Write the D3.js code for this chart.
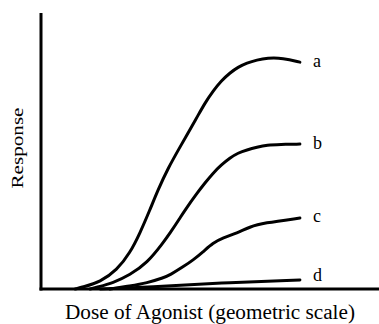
<!DOCTYPE html>
<html>
<head>
<meta charset="utf-8">
<script src="https://cdn.jsdelivr.net/npm/d3@7"></script>
<style>
    body { margin: 0; background: #fff; }
    svg { display: block; }
    .lbl { font-family: "Liberation Serif", "Times New Roman", serif; fill: #000; }
</style>
</head>
<body>
<div id="vis"></div>
<script>
// dose in log units (geometric scale), response in % of axis height
var curveNames = ["a", "b", "c", "d"];

var doseA = [1.01, 1.24, 1.75, 2.25, 2.63, 2.93, 3.22, 3.46, 3.76, 4.11, 4.62, 4.85, 5.09, 5.33, 5.59, 5.83, 6.09, 6.39, 6.69, 7.16, 7.66];
var respA = [0, 0.7, 2.5, 6.9, 13.0, 20.3, 28.6, 35.9, 43.8, 51.4, 62.3, 67.4, 71.7, 75.4, 78.3, 80.4, 81.9, 83.0, 83.7, 83.7, 82.2];

var doseB = [1.45, 1.66, 2.13, 2.63, 3.14, 3.61, 3.82, 4.11, 4.26, 4.62, 4.85, 5.09, 5.33, 5.59, 5.83, 6.09, 6.39, 6.69, 7.07, 7.66];
var respB = [0, 0.7, 2.2, 5.1, 9.4, 16.7, 20.3, 25.7, 28.6, 34.8, 38.4, 42.0, 44.9, 47.5, 49.3, 50.4, 51.4, 52.2, 52.4, 52.5];

var doseC = [2.04, 2.63, 3.14, 3.61, 3.82, 4.20, 4.50, 4.79, 5.09, 5.38, 5.80, 6.18, 6.57, 7.66];
var respC = [0, 1.1, 2.2, 4.0, 5.1, 8.0, 10.5, 13.4, 16.7, 18.5, 20.3, 22.5, 23.9, 25.7];

var doseD = [1.75, 3.22, 5.30, 7.66];
var respD = [0, 0.7, 2.2, 3.3];

var width = 379;
var height = 324;

var svg = d3.select("#vis").append("svg")
    .attr("width", width)
    .attr("height", height);

var x = d3.scaleLinear().domain([0, 10]).range([41, 379]);
var y = d3.scaleLinear().domain([0, 100]).range([289, 13]);

var series = [
    { name: curveNames[0], dose: doseA, resp: respA, shift: 5 },
    { name: curveNames[1], dose: doseB, resp: respB, shift: 5 },
    { name: curveNames[2], dose: doseC, resp: respC, shift: 4 },
    { name: curveNames[3], dose: doseD, resp: respD, shift: 1 }
];

var line = d3.line()
    .x(function(d) { return x(d[0]); })
    .y(function(d) { return y(d[1]); })
    .curve(d3.curveBasis);

// axes (plain lines, no ticks)
svg.append("line")
    .attr("x1", x(0)).attr("x2", x(0))
    .attr("y1", y(100)).attr("y2", y(0) + 1.5)
    .attr("stroke", "#000").attr("stroke-width", 3);
svg.append("line")
    .attr("x1", x(0) - 1.5).attr("x2", x(10))
    .attr("y1", y(0)).attr("y2", y(0))
    .attr("stroke", "#000").attr("stroke-width", 3);

series.forEach(function(s) {
    var pts = d3.zip(s.dose, s.resp);
    svg.append("path")
        .datum(pts)
        .attr("d", line)
        .attr("fill", "none")
        .attr("stroke", "#000")
        .attr("stroke-width", 3)
        .attr("stroke-linecap", "round");

    var last = pts[pts.length - 1];
    svg.append("text")
        .attr("class", "lbl")
        .attr("x", x(last[0]) + 13)
        .attr("y", y(last[1]) + s.shift)
        .attr("font-size", 18)
        .text(s.name);
});

svg.append("text")
    .attr("class", "lbl")
    .attr("x", 210)
    .attr("y", 319)
    .attr("text-anchor", "middle")
    .attr("font-size", 20)
    .attr("textLength", 290)
    .attr("lengthAdjust", "spacingAndGlyphs")
    .text("Dose of Agonist (geometric scale)");

svg.append("text")
    .attr("class", "lbl")
    .attr("transform", "translate(23,148) rotate(-90)")
    .attr("text-anchor", "middle")
    .attr("font-size", 17)
    .attr("textLength", 81)
    .attr("lengthAdjust", "spacingAndGlyphs")
    .text("Response");
</script>
</body>
</html>
